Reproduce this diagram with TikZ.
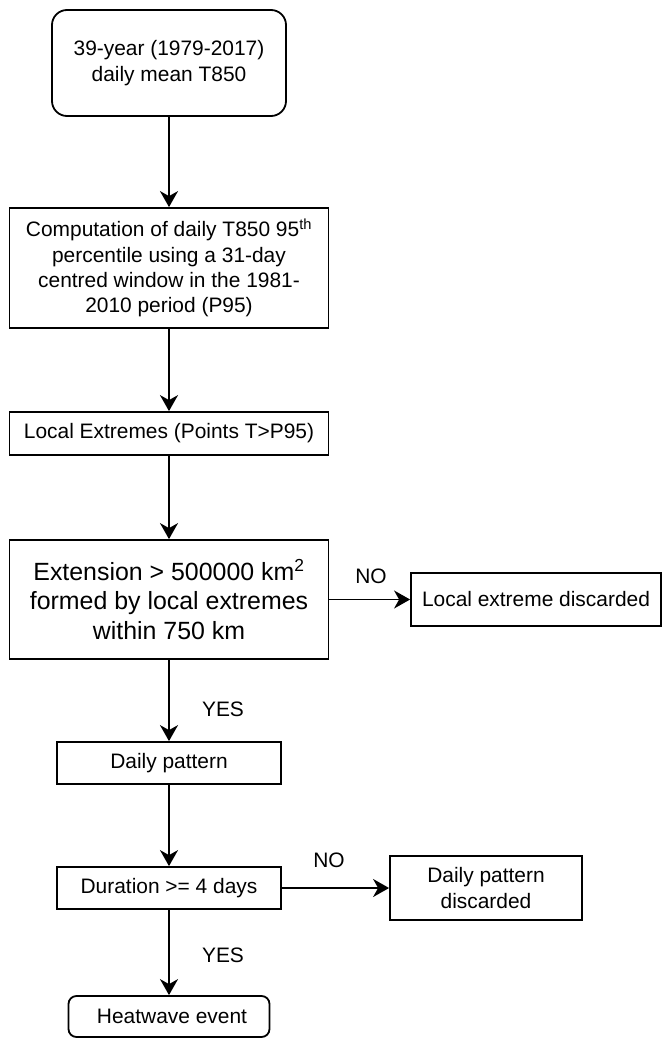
\documentclass[tikz,border=0pt]{standalone}
\usepackage{fontspec}
\setmainfont{Liberation Sans}
\usetikzlibrary{arrows.meta}
\tikzset{
    proc/.style={
           rectangle,
           draw=black, line width=1.8bp,
           inner sep=2pt,
           align=center,
           font=\fontsize{21}{25.5}\selectfont,
           },
}
\tikzset{
    term/.style={
           proc,
           rounded corners=15bp,
           },
}
\tikzset{
    lbl/.style={
           inner sep=0pt,
           font=\fontsize{21}{25.5}\selectfont,
           },
}
\tikzset{
    flow/.style={
           -{Stealth[length=16bp,width=18bp,inset=5bp]},
           line width=1.8bp,
           },
}

\begin{document}
\begin{tikzpicture}[x=1bp,y=-1bp]
\useasboundingbox (0,0) rectangle (662,1038);
\node[term, minimum width=234bp, minimum height=106bp] (input) at (169,63)
    {39-year (1979-2017)\\daily mean T850};
\node[proc, minimum width=319bp, minimum height=120bp] (pctl) at (169,268)
    {Computation of daily T850 95\textsuperscript{th}\\percentile using a 31-day\\centred window in the 1981-\\2010 period (P95)};
\node[proc, minimum width=319bp, minimum height=43bp] (local) at (169,433.5)
    {Local Extremes (Points T>P95)};
\node[proc, minimum width=319bp, minimum height=119bp,
      font=\fontsize{25}{29.5}\selectfont] (ext) at (169,599.5)
    {Extension > 500000 km\textsuperscript{2}\\formed by local extremes\\within 750 km};
\node[proc, minimum width=250bp, minimum height=53bp] (lostlocal) at (536,599.5)
    {Local extreme discarded};
\node[proc, minimum width=224bp, minimum height=42bp] (daily) at (169,763)
    {Daily pattern};
\node[proc, minimum width=224bp, minimum height=42bp] (dur) at (169,888)
    {Duration >= 4 days};
\node[proc, minimum width=192bp, minimum height=64bp] (lostdaily) at (486,888)
    {Daily pattern\\discarded};
\node[term, rounded corners=8bp, minimum width=201bp, minimum height=41bp] (hw) at (169,1016.5)
    {\hspace{6bp}Heatwave event};

\node[lbl] (no1) at (371,576) {NO};
\node[lbl] (yes1) at (223,709) {YES};
\node[lbl] (no2) at (329,860) {NO};
\node[lbl] (yes2) at (223,955) {YES};

\draw[flow] (input) -- (pctl);
\draw[flow] (pctl) -- (local);
\draw[flow] (local) -- (ext);
\draw[flow] (ext) -- (lostlocal);
\draw[flow] (ext) -- (daily);
\draw[flow] (daily) -- (dur);
\draw[flow] (dur) -- (lostdaily);
\draw[flow] (dur) -- (hw);
\end{tikzpicture}
\end{document}
